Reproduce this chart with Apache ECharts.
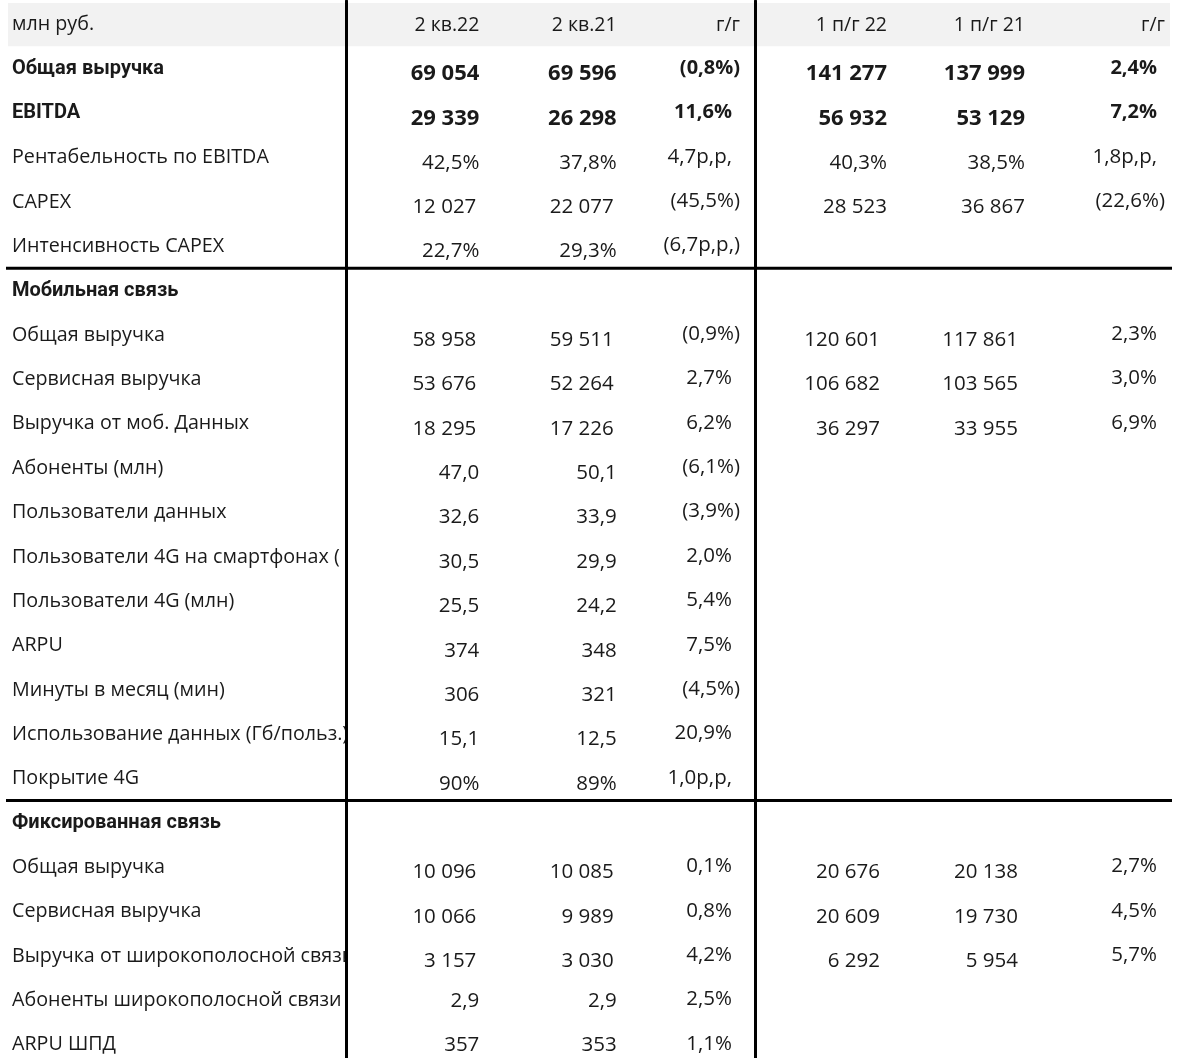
<!DOCTYPE html>
<html><head><meta charset="utf-8">
<script src="https://cdn.jsdelivr.net/npm/echarts@6/dist/echarts.min.js"></script>
<style>html,body{margin:0;padding:0;background:#fff}#c{width:1184px;height:1058px}</style>
</head><body><div id="c"></div>
<script>
// ---------- DATA ----------
const unitLabel = 'млн руб.';
const quarterHeaders = ['2 кв.22', '2 кв.21', 'г/г'];
const halfHeaders = ['1 п/г 22', '1 п/г 21', 'г/г'];
const rowLabels = [
  'Общая выручка', 'EBITDA', 'Рентабельность по EBITDA', 'CAPEX', 'Интенсивность CAPEX',
  'Мобильная связь',
  'Общая выручка', 'Сервисная выручка', 'Выручка от моб. Данных', 'Абоненты (млн)',
  'Пользователи данных', 'Пользователи 4G на смартфонах (', 'Пользователи 4G (млн)', 'ARPU',
  'Минуты в месяц (мин)', 'Использование данных (Гб/польз.)', 'Покрытие 4G',
  'Фиксированная связь',
  'Общая выручка', 'Сервисная выручка', 'Выручка от широкополосной связи',
  'Абоненты широкополосной связи (', 'ARPU ШПД'
];
// number format per row: int, pct1, dec1, pct0, null (section header)
const rowFormats = [
  'int', 'int', 'pct1', 'int', 'pct1',
  null,
  'int', 'int', 'int', 'dec1', 'dec1', 'dec1', 'dec1', 'int', 'int', 'dec1', 'pct0',
  null,
  'int', 'int', 'int', 'dec1', 'int'
];
const q22 = [69054, 29339, 42.5, 12027, 22.7, null, 58958, 53676, 18295, 47.0, 32.6, 30.5, 25.5, 374, 306, 15.1, 90, null, 10096, 10066, 3157, 2.9, 357];
const q21 = [69596, 26298, 37.8, 22077, 29.3, null, 59511, 52264, 17226, 50.1, 33.9, 29.9, 24.2, 348, 321, 12.5, 89, null, 10085, 9989, 3030, 2.9, 353];
const qYoY = [-0.8, 11.6, 4.7, -45.5, -6.7, null, -0.9, 2.7, 6.2, -6.1, -3.9, 2.0, 5.4, 7.5, -4.5, 20.9, 1.0, null, 0.1, 0.8, 4.2, 2.5, 1.1];
const h22 = [141277, 56932, 40.3, 28523, null, null, 120601, 106682, 36297, null, null, null, null, null, null, null, null, null, 20676, 20609, 6292, null, null];
const h21 = [137999, 53129, 38.5, 36867, null, null, 117861, 103565, 33955, null, null, null, null, null, null, null, null, null, 20138, 19730, 5954, null, null];
const hYoY = [2.4, 7.2, 1.8, -22.6, null, null, 2.3, 3.0, 6.9, null, null, null, null, null, null, null, null, null, 2.7, 4.5, 5.7, null, null];
// growth unit per row: '%' or 'pp' (percentage points)
const yoyUnits = ['%', '%', 'pp', '%', 'pp', null, '%', '%', '%', '%', '%', '%', '%', '%', '%', '%', 'pp', null, '%', '%', '%', '%', '%'];

// ---------- STYLE ----------
const BOLD_ROWS = [1, 2, 6, 18];
const SECTION_ROWS = [6, 18];
const REG_FAMILY = '"Open Sans", "Noto Sans", sans-serif';
const BOLD_FAMILY = 'Roboto, "Open Sans", sans-serif';
const TEXT_COLOR = '#1a1a1a';

// ---------- FORMAT ----------
function fmtNum(v, f) {
  if (v === null || v === undefined) return '';
  if (f === 'int') return String(Math.round(v)).replace(/\B(?=(\d{3})+(?!\d))/g, ' ');
  if (f === 'pct1') return v.toFixed(1).replace('.', ',') + '%';
  if (f === 'pct0') return v.toFixed(0) + '%';
  if (f === 'dec1') return v.toFixed(1).replace('.', ',');
  return String(v);
}
function fmtYoY(v, unit) {
  if (v === null || v === undefined) return '';
  const a = Math.abs(v).toFixed(1).replace('.', ',') + (unit === 'pp' ? 'р,р,' : '%');
  return v < 0 ? '(' + a + ')' : a;
}

const ROW_COUNT = rowLabels.length + 1;

// build cell lists
const labelCells = [[0, 0, unitLabel]];
rowLabels.forEach((t, i) => labelCells.push([0, i + 1, t]));

function buildCells(headers, a, b, g) {
  const cells = headers.map((h, c) => [c, 0, h]);
  for (let i = 0; i < rowLabels.length; i++) {
    const f = rowFormats[i];
    if (!f) { cells.push([0, i + 1, '']); continue; }
    cells.push([0, i + 1, fmtNum(a[i], f)]);
    cells.push([1, i + 1, fmtNum(b[i], f)]);
    cells.push([2, i + 1, fmtYoY(g[i], yoyUnits[i])]);
  }
  return cells;
}
const qCells = buildCells(quarterHeaders, q22, q21, qYoY);
const hCells = buildCells(halfHeaders, h22, h21, hYoY);

function labelFont(r) {
  if (BOLD_ROWS.includes(r)) return 'bold 20px ' + BOLD_FAMILY;
  return 'normal 19.7px ' + REG_FAMILY;
}
function valueFont(r, col) {
  if (r === 0) return 'normal 19.5px ' + REG_FAMILY;
  if (BOLD_ROWS.includes(r)) return (col === 2 ? 'bold 20px ' : 'bold 22px ') + REG_FAMILY;
  return 'normal 20.5px ' + REG_FAMILY;
}

function decorations(r, x0, y0, w, h, leftInset, rightInset) {
  const out = [];
  if (r === 0) out.push({ type: 'rect', shape: { x: x0 + leftInset, y: y0 + 2, width: w - leftInset - rightInset, height: h - 1 }, style: { fill: '#f2f2f2' } });
  if (SECTION_ROWS.includes(r)) out.push({ type: 'line', shape: { x1: x0 + (leftInset ? 6 : 0), y1: y0 + 1, x2: x0 + w, y2: y0 + 1 }, style: { stroke: '#000', lineWidth: 3 } });
  return out;
}

function labelRender(params, api) {
  const cell = labelCells[params.dataIndex];
  const r = cell[1];
  const c = api.coord([0, r]);
  const sz = api.size([1, 1]);
  const x0 = c[0] - sz[0] / 2, y0 = c[1] - sz[1] / 2;
  const children = decorations(r, x0, y0, sz[0], sz[1], 8, 0);
  children.push({ type: 'text', style: { x: x0 + 12, y: c[1] + 1.5, text: cell[2], fill: TEXT_COLOR, font: labelFont(r), textAlign: 'left', textVerticalAlign: 'middle' } });
  return { type: 'group', children };
}

function makeValueRender(cells, pads, isHalf) {
  return function (params, api) {
    const cell = cells[params.dataIndex];
    const col = cell[0], r = cell[1], text = cell[2];
    const c = api.coord([col, r]);
    const sz = api.size([1, 1]);
    const x0 = c[0] - sz[0] / 2, y0 = c[1] - sz[1] / 2;
    const children = [];
    if (col === 0) {
      children.push(...decorations(r, x0, y0, sz[0] * 3, sz[1], 0, isHalf ? 2 : 0));
    }
    if (text) {
      let pad = pads[col];
      if (col === 2 && r > 0 && !text.endsWith(')')) pad += 8;
      if (isHalf && col < 2 && r >= 6) pad += 7;
      if (!isHalf && col < 2 && r > 0 && !BOLD_ROWS.includes(r) && rowFormats[r - 1] === 'int' && text.length > 4) pad += 3;
      let dy = 0;
      if (r === 0) dy = 2.5;
      else if (col < 2) dy = (r >= 22) ? 2 : 6.5;
      else dy = 0.5;
      children.push({ type: 'text', style: { x: x0 + sz[0] - pad, y: c[1] + dy, text, fill: TEXT_COLOR, font: valueFont(r, col), textAlign: 'right', textVerticalAlign: 'middle' } });
    }
    return { type: 'group', children };
  };
}

const chart = echarts.init(document.getElementById('c'), null, { renderer: 'canvas' });
const hiddenX = { show: false, axisTick: { show: false } };
function rowAxis(gridIndex, withLine) {
  return {
    gridIndex, type: 'value', inverse: true, min: -0.5, max: ROW_COUNT - 0.67,
    show: withLine, z: 5,
    axisLine: { show: withLine, onZero: false, lineStyle: { color: '#000', width: 3 } },
    axisTick: { show: false }, axisLabel: { show: false }, splitLine: { show: false }
  };
}
chart.setOption({
  backgroundColor: '#fff',
  animation: false,
  grid: [
    { left: 0, top: 1, width: 346, bottom: 0 },
    { left: 346, top: 1, width: 409, bottom: 0 },
    { left: 755, top: 1, width: 417, bottom: 0 }
  ],
  xAxis: [
    Object.assign({ gridIndex: 0, type: 'category', data: ['label'] }, hiddenX),
    Object.assign({ gridIndex: 1, type: 'category', data: quarterHeaders }, hiddenX),
    Object.assign({ gridIndex: 2, type: 'category', data: halfHeaders }, hiddenX)
  ],
  yAxis: [rowAxis(0, false), rowAxis(1, true), rowAxis(2, true)],
  series: [
    { type: 'custom', xAxisIndex: 0, yAxisIndex: 0, clip: true, data: labelCells.map(c => [c[0], c[1]]), renderItem: labelRender, z: 2 },
    { type: 'custom', xAxisIndex: 1, yAxisIndex: 1, clip: true, data: qCells.map(c => [c[0], c[1]]), renderItem: makeValueRender(qCells, [3, 2, 15], false), z: 1 },
    { type: 'custom', xAxisIndex: 2, yAxisIndex: 2, clip: true, data: hCells.map(c => [c[0], c[1]]), renderItem: makeValueRender(hCells, [7, 8, 7], true), z: 1 }
  ]
});
</script></body></html>
